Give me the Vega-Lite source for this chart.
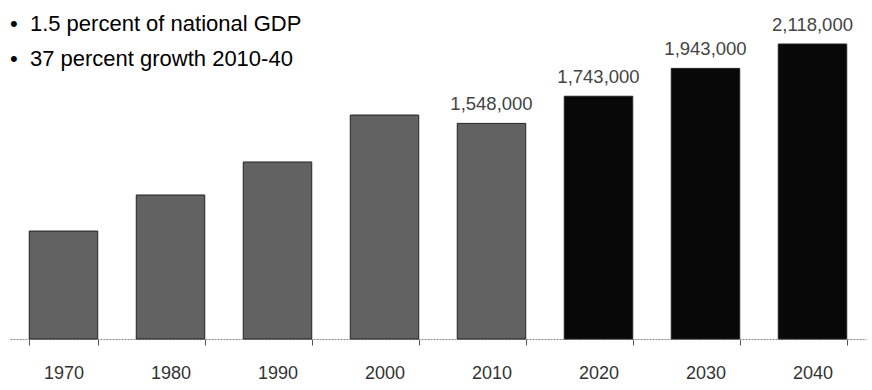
{
  "$schema": "https://vega.github.io/schema/vega-lite/v6.json",
  "width": 856,
  "height": 339,
  "padding": {"left": 10, "top": 0, "right": 6, "bottom": 5},
  "background": "white",
  "title": {
    "text": ["•\u00a0\u00a01.5 percent of national GDP", "•\u00a0\u00a037 percent growth 2010-40"],
    "anchor": "start",
    "frame": "group",
    "orient": "top",
    "baseline": "top",
    "font": "Liberation Sans",
    "fontSize": 22,
    "fontWeight": "normal",
    "color": "#000000",
    "lineHeight": 35,
    "offset": 0,
    "dy": 71
  },
  "data": {
    "values": [
      {"year": "1970", "value": 775000, "period": "historical", "label": ""},
      {"year": "1980", "value": 1034000, "period": "historical", "label": ""},
      {"year": "1990", "value": 1271000, "period": "historical", "label": ""},
      {"year": "2000", "value": 1608000, "period": "historical", "label": ""},
      {"year": "2010", "value": 1548000, "period": "historical", "label": "1,548,000"},
      {"year": "2020", "value": 1743000, "period": "projected", "label": "1,743,000"},
      {"year": "2030", "value": 1943000, "period": "projected", "label": "1,943,000"},
      {"year": "2040", "value": 2118000, "period": "projected", "label": "2,118,000"}
    ]
  },
  "encoding": {
    "x": {
      "field": "year",
      "type": "nominal",
      "sort": null,
      "scale": {"paddingInner": 0.36, "paddingOuter": 0.18},
      "axis": {
        "title": null,
        "labelAngle": 0,
        "labelFont": "Liberation Sans",
        "labelFontSize": 18,
        "labelColor": "#333333",
        "labelPadding": 19,
        "ticks": true,
        "tickSize": 6,
        "tickWidth": 1,
        "tickColor": "#555555",
        "tickBand": "extent",
        "domainColor": "#888888",
        "domainDash": [2, 1],
        "grid": false
      }
    },
    "y": {
      "field": "value",
      "type": "quantitative",
      "scale": {"domain": [0, 2434000], "nice": false},
      "axis": null
    }
  },
  "layer": [
    {
      "mark": {"type": "bar", "stroke": "#222222", "strokeWidth": 1},
      "encoding": {
        "color": {
          "field": "period",
          "type": "nominal",
          "scale": {"domain": ["historical", "projected"], "range": ["#626262", "#080808"]},
          "legend": null
        }
      }
    },
    {
      "mark": {"type": "text", "baseline": "bottom", "dy": -9, "font": "Liberation Sans", "fontSize": 18.5, "color": "#444444"},
      "encoding": {"text": {"field": "label"}}
    }
  ],
  "config": {"view": {"stroke": null}}
}
